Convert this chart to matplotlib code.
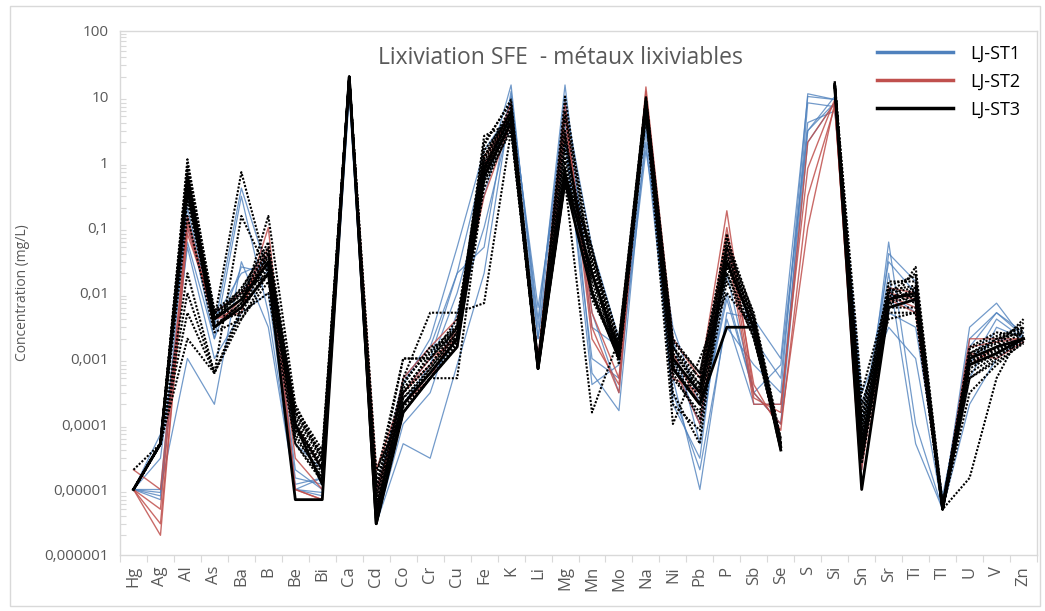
import numpy as np
import matplotlib
matplotlib.use("Agg")
import matplotlib.pyplot as plt
from matplotlib.patches import Rectangle
from matplotlib.lines import Line2D

plt.rcParams['font.family'] = ['Open Sans', 'DejaVu Sans']

nan = np.nan

elements = ["Hg", "Ag", "Al", "As", "Ba", "B", "Be", "Bi", "Ca", "Cd", "Co", "Cr", "Cu", "Fe", "K",
            "Li", "Mg", "Mn", "Mo", "Na", "Ni", "Pb", "P", "Sb", "Se", "S", "Si", "Sn", "Sr", "Ti",
            "Tl", "U", "V", "Zn"]

yticks = [1e-6, 1e-5, 1e-4, 1e-3, 1e-2, 1e-1, 1, 10, 100]
ytick_labels = ["0,000001", "0,00001", "0,0001", "0,001", "0,01", "0,1", "1", "10", "100"]

# LJ-ST1 (blue)
st1_a = [1e-5, 7e-5, 0.2, 0.003, 0.4, 0.02, 1.2e-5, 1.5e-5, 15, 3e-6, 1.5e-4, 5e-4, 0.002, 0.5, 15, 0.002, 10,
         6e-4, 1.6e-4, 3, 5e-4, 1e-5, 0.005, 0.004, 0.001, 10, 9, 3e-5, 0.06, 1e-4, 5e-6, 0.003, 0.007, 0.002]
st1_b = [1e-5, 1e-5, 0.001, 2e-4, 0.03, 0.003, 1e-5, 8e-6, 12, 3e-6, 5e-5, 3e-5, 8e-4, 0.02, 8, 0.006, 3,
         4e-4, 8e-4, 2, 3e-4, 2e-5, 0.004, 2e-4, 2e-4, 3, 8, 5e-5, 0.02, 5e-5, 5e-6, 5e-4, 0.003, 0.002]
st1_c = [1e-5, 8e-6, 0.06, 0.002, 0.3, 0.005, 1e-5, 1.5e-5, 18, 4e-6, 3e-4, 1e-3, 0.02, 0.05, 12, 0.003, 15,
         0.005, 3e-4, 5, 0.002, 5e-5, 0.02, 3e-4, 1e-4, 2, 8, 1e-4, 0.03, 0.01, 6e-6, 0.002, 0.005, 0.0025]
st1_d = [1e-5, 7e-6, 0.1, 0.004, 0.02, 0.03, 2e-5, 1e-5, 20, 5e-6, 4e-4, 0.002, 0.05, 1.5, 6, 0.001, 6,
         0.01, 0.001, 8, 0.001, 1e-4, 0.01, 3e-4, 1e-4, 8, 7, 5e-5, 0.01, 0.005, 5e-6, 0.001, 0.002, 0.0018]
st1_e = [1e-5, 9e-6, 0.3, 0.005, 0.01, 0.04, 5e-5, 2e-5, 20, 1e-5, 2e-4, 8e-4, 0.01, 0.3, 10, 0.004, 8,
         0.05, 0.002, 4, 2e-4, 3e-5, 0.05, 0.002, 5e-4, 4, 6, 2e-4, 0.005, 0.003, 8e-6, 8e-4, 0.004, 0.002]
st1_f = [1e-5, 3e-5, 0.05, 0.001, 0.005, 0.01, 1e-5, 9e-6, 10, 3e-6, 1e-4, 3e-4, 0.005, 0.1, 5, 0.002, 2,
         0.001, 5e-4, 1.5, 0.003, 2e-4, 0.003, 8e-4, 3e-4, 11, 9, 3e-4, 0.003, 0.001, 5e-6, 2e-4, 0.001, 0.002]
st1_g = [1e-5, 5e-5, 0.15, 0.002, 0.025, 0.02, 1.5e-5, 1.2e-5, 20, 8e-6, 5e-4, 0.0015, 0.02, 1, 3, 0.001, 4,
         0.003, 0.0015, 6, 8e-4, 1e-4, 0.008, 3e-4, 8e-4, 3, 10, 2e-5, 0.04, 0.015, 5e-6, 0.0015, 0.005, 0.0022]

# LJ-ST2 (red)
st2_a = [2e-5, 1e-5, 0.12, 0.004, 0.005, 0.1, 1e-5, 7e-6, 20, 2e-5, 3e-4, 0.001, 0.002, 1.2, 5, 0.001, 8,
         0.003, 3e-4, 14, 0.002, 5e-4, 0.18, 3e-4, 1e-4, 0.1, 8, 1e-5, 0.008, 0.005, 5e-6, 0.002, 0.002, 0.002]
st2_b = [1e-5, 5e-6, 0.15, 0.003, 0.008, 0.05, 3e-5, 1e-5, 20, 1e-5, 2e-4, 5e-4, 0.003, 0.6, 8, 9e-4, 5,
         0.005, 5e-4, 10, 8e-4, 1e-4, 0.05, 2e-4, 2e-4, 0.8, 9, 3e-5, 0.01, 0.008, 5e-6, 8e-4, 0.0015, 0.002]
st2_c = [1e-5, 3e-6, 0.08, 0.005, 0.01, 0.03, 1e-4, 2e-5, 19, 5e-6, 5e-4, 0.0015, 0.004, 0.3, 4, 8e-4, 3,
         0.01, 0.001, 8, 5e-4, 3e-4, 0.1, 4e-4, 8e-5, 0.3, 7, 2e-5, 0.012, 0.01, 5e-6, 0.0012, 0.001, 0.0018]
st2_d = [1e-5, 2e-6, 0.1, 0.004, 0.006, 0.04, 1e-5, 7e-6, 20, 8e-6, 3e-4, 8e-4, 0.0025, 0.9, 6, 9e-4, 6,
         0.002, 4e-4, 12, 0.0012, 2e-4, 0.08, 2.5e-4, 1.5e-4, 2, 8, 1e-5, 0.009, 0.006, 5e-6, 0.0015, 0.0018, 0.002]

# LJ-ST3 (black, solid)
st3_main = [1e-5, 5e-5, 0.6, 0.004, 0.008, 0.03, 1e-4, 1.2e-5, 20, 3e-6, 2e-4, 6e-4, 0.002, 0.8, 5, 7e-4, 0.6,
            0.02, 0.0013, 8, 0.001, 3e-4, 0.03, 0.003, 4.5e-5, nan, 15, 3e-5, 0.008, 0.01, 5e-6, 0.001, 0.0015, 0.002]
st3_low = [1e-5, 5e-5, 0.4, 0.003, 0.006, 0.02, 7e-6, 7e-6, 20, 3e-6, 1.5e-4, 5e-4, 0.0015, 0.6, 4, 7e-4, 0.5,
           0.01, 0.001, 6, 7e-4, 2e-4, 0.003, 0.003, 4e-5, nan, 14, 1e-5, 0.006, 0.008, 5e-6, 8e-4, 0.0012, 0.002]

# LJ-ST3 (black, dotted)
st3_d1 = [1e-5, 5e-5, 1.1, 0.005, 0.01, 0.04, 1.5e-4, 3e-5, 20, 4e-6, 3e-4, 8e-4, 0.003, 1.0, 6, 8e-4, 1.0,
          0.03, 0.0015, 9, 0.0015, 5e-4, 0.04, 0.004, 5e-5, nan, 16, 5e-5, 0.01, 0.012, 5e-6, 0.0012, 0.002, 0.0025]
st3_d2 = [2e-5, 5e-5, 0.8, 0.004, 0.7, 0.02, 8e-5, 2e-5, 20, 5e-6, 2.5e-4, 7e-4, 0.0025, 2.5, 4, 7e-4, 2,
          0.01, 0.001, 7, 8e-4, 2e-4, 0.02, 0.002, 6e-5, nan, 14, 1e-4, 0.006, 0.025, 6e-6, 8e-4, 0.0015, 0.004]
st3_d3 = [1e-5, 5e-5, 0.02, 6e-4, 0.15, 0.02, 1.8e-4, 4e-5, 20, 1e-5, 0.001, 0.001, 0.003, 1.5, 5, 7e-4, 0.5,
          1.5e-4, 0.002, 6, 1e-4, 0.001, 0.01, 0.003, 5e-5, nan, 15, 2e-4, 0.004, 0.005, 5e-6, 1.5e-5, 5e-4, 0.003]
st3_d4 = [1e-5, 5e-5, 0.01, 6e-4, 0.005, 0.01, 5e-5, 1.5e-5, 20, 3e-6, 5e-4, 0.005, 0.005, 0.007, 3, 7e-4, 0.8,
          0.02, 0.001, 8, 3e-4, 5e-5, 0.06, 0.004, 4e-5, nan, 15, 3e-5, 0.012, 0.008, 5e-6, 5e-4, 0.001, 0.002]
st3_d5 = [1e-5, 5e-5, 0.005, 6e-4, 0.004, 0.015, 1e-4, 2.5e-5, 20, 2e-5, 1.5e-4, 5e-4, 5e-4, 0.5, 4, 7e-4, 0.6,
          0.05, 8e-4, 5, 0.0015, 3e-4, 0.03, 0.003, 5e-5, nan, 14, 1e-4, 0.008, 0.01, 5e-6, 3e-4, 8e-4, 0.0018]
st3_d6 = [1e-5, 5e-5, 0.002, 6e-4, 0.006, 0.15, 2e-4, 3e-5, 20, 1.5e-5, 0.001, 0.001, 0.004, 1.2, 6, 8e-4, 1.5,
          0.04, 0.002, 10, 0.002, 6e-4, 0.05, 0.005, 6e-5, nan, 17, 3e-4, 0.01, 0.02, 6e-6, 0.001, 0.002, 0.003]
st3_d7 = [1e-5, 5e-5, 0.3, 0.004, 0.012, 0.05, 1.2e-4, 2e-5, 20, 8e-6, 4e-4, 0.0015, 0.002, 2, 8, 9e-4, 3,
          0.008, 0.0012, 9, 0.0012, 4e-4, 0.08, 0.002, 5e-5, nan, 15, 8e-5, 0.015, 0.015, 5e-6, 0.0015, 0.0025, 0.0022]
st3_d8 = [1e-5, 5e-5, 0.5, 0.005, 0.009, 0.035, 6e-5, 1.8e-5, 20, 5e-6, 2e-4, 6e-4, 0.0018, 0.9, 5, 7e-4, 0.7,
          0.015, 0.0011, 8, 5e-4, 1.5e-4, 0.025, 0.003, 4.5e-5, nan, 16, 4e-5, 0.009, 0.009, 5e-6, 0.0007, 0.0012, 0.002]
st3_d9 = [1e-5, 5e-5, 0.7, 0.003, 0.007, 0.04, 1.5e-4, 3.5e-5, 20, 1.2e-5, 3e-4, 0.0012, 0.003, 1.2, 7, 8e-4, 5,
          0.025, 0.0015, 9, 2e-4, 8e-5, 0.04, 0.0035, 5e-5, nan, 16, 6e-5, 0.007, 0.012, 5e-6, 0.0012, 0.0018, 0.0035]
st3_d10 = [1e-5, 5e-5, 0.9, 0.004, 0.01, 0.02, 8e-5, 2.5e-5, 20, 6e-6, 3e-4, 0.0008, 0.0025, 0.7, 4, 7e-4, 10,
           0.02, 0.0014, 7, 0.001, 3e-4, 0.035, 0.004, 5e-5, nan, 15, 1.5e-4, 0.01, 0.007, 5e-6, 0.001, 0.0015, 0.0025]
st3_d11 = [1e-5, 5e-5, 0.4, 0.0045, 0.006, 0.03, 1e-4, 2e-5, 20, 4e-6, 2e-4, 7e-4, 0.0022, 0.8, 6, 7e-4, 0.8,
           0.03, 0.0013, 8, 7e-4, 2e-4, 0.03, 0.003, 4.5e-5, nan, 15, 4e-5, 0.008, 0.011, 5e-6, 0.0009, 0.0014, 0.002]
st3_d12 = [1e-5, 5e-5, 0.25, 0.0035, 0.005, 0.025, 7e-5, 1.5e-5, 20, 3e-6, 1.5e-4, 5e-4, 0.0015, 0.5, 3, 7e-4, 0.5,
           0.01, 0.0011, 6, 0.0015, 4e-4, 0.02, 0.0025, 4e-5, nan, 14, 3e-5, 0.006, 0.006, 5e-6, 6e-4, 0.0011, 0.0018]
st3_d13 = [1e-5, 5e-5, 0.6, 0.005, 0.01, 0.045, 1.3e-4, 2.8e-5, 20, 7e-6, 3.5e-4, 0.001, 0.0028, 1.1, 6, 8e-4, 1.2,
           0.035, 0.0016, 9, 0.0012, 3.5e-4, 0.05, 0.0035, 5e-5, nan, 16, 7e-5, 0.011, 0.013, 5e-6, 0.0011, 0.0017, 0.0028]
st3_d14 = [1e-5, 5e-5, 0.35, 0.003, 0.007, 0.028, 9e-5, 2.2e-5, 20, 5e-6, 2.5e-4, 6e-4, 0.002, 0.7, 4.5, 7e-4, 0.7,
           0.018, 0.0012, 7, 9e-4, 2.5e-4, 0.028, 0.003, 4.5e-5, nan, 15, 5e-5, 0.007, 0.009, 5e-6, 9e-4, 0.0013, 0.0021]
st3_d15 = [1e-5, 5e-5, 0.15, 0.0025, 0.004, 0.02, 5e-5, 1.3e-5, 20, 4e-6, 1.8e-4, 5e-4, 0.0017, 0.4, 3.5, 7e-4, 2.5,
           0.012, 0.001, 6, 6e-4, 1.2e-4, 0.015, 0.0022, 4e-5, nan, 14, 2.5e-5, 0.005, 0.005, 5e-6, 5e-4, 0.0009, 0.0017]
st3_d16 = [1e-5, 5e-5, 0.9, 0.0055, 0.011, 0.06, 1.6e-4, 3.2e-5, 20, 1e-5, 4.5e-4, 0.0013, 0.0032, 1.8, 9, 9e-4, 6,
           0.045, 0.0018, 10, 0.0018, 6e-4, 0.07, 0.0045, 5.5e-5, nan, 17, 1.2e-4, 0.013, 0.018, 6e-6, 0.0014, 0.0022, 0.003]

st1_series = [st1_a, st1_b, st1_c, st1_d, st1_e, st1_f, st1_g]
st2_series = [st2_a, st2_b, st2_c, st2_d]
st3_dotted = [st3_d1, st3_d2, st3_d3, st3_d4, st3_d5, st3_d6, st3_d7, st3_d8, st3_d9, st3_d10, st3_d11, st3_d12,
              st3_d13, st3_d14, st3_d15, st3_d16]
st3_solid = [st3_main, st3_low]

blue = "#4f81bd"
red = "#c0504d"
grey = "#595959"
axis_grey = "#d9d9d9"

fig = plt.figure(figsize=(10.45, 6.11), dpi=100)
ax = fig.add_axes([120 / 1045, 1 - 555 / 611, 917 / 1045, 524 / 611])
fig.patches.append(Rectangle((10 / 1045, 5 / 611), 1030 / 1045, 600 / 611, transform=fig.transFigure,
                             fill=False, edgecolor=axis_grey, linewidth=1))

x = np.arange(len(elements))

for s in st1_series:
    ax.plot(x, s, color=blue, lw=0.9, alpha=0.8)
for s in st2_series:
    ax.plot(x, s, color=red, lw=1.0, alpha=0.85)
for s in st3_dotted:
    ax.plot(x, s, color="black", lw=1.5, linestyle=(0, (1, 0.8)))
for s in st3_solid:
    ax.plot(x, s, color="black", lw=2.0)

ax.set_yscale("log")
ax.set_ylim(1e-6, 100)
ax.set_xlim(-0.5, len(elements) - 0.5)
ax.set_yticks(yticks)
ax.set_yticklabels(ytick_labels)
ax.yaxis.set_minor_locator(matplotlib.ticker.LogLocator(base=10, subs=np.arange(2, 10)))
ax.yaxis.set_minor_formatter(matplotlib.ticker.NullFormatter())
ax.tick_params(axis="y", which="major", length=0, labelsize=11, labelcolor=grey, pad=8)
ax.tick_params(axis="y", which="minor", direction="in", length=4, color=axis_grey, width=0.8)

ax.set_xticks(x)
ax.set_xticklabels(elements, rotation=90)
ax.set_xticks(np.arange(-0.5, len(elements)), minor=True)
ax.tick_params(axis="x", which="major", length=0, labelsize=12, labelcolor=grey, pad=8)
ax.tick_params(axis="x", which="minor", length=5, color=axis_grey, width=0.8)

for sp in ax.spines.values():
    sp.set_color(axis_grey)
    sp.set_linewidth(1)

ax.set_ylabel("Concentration (mg/L)", fontsize=10, color=grey, labelpad=10)
fig.text(560 / 1045, 1 - 58 / 611, "Lixiviation SFE  - métaux lixiviables", fontsize=16.5, color=grey,
         ha="center", va="center")

handles = [Line2D([], [], color=blue, lw=2.5),
           Line2D([], [], color=red, lw=2.5),
           Line2D([], [], color="black", lw=2.5)]
ax.legend(handles, ["LJ-ST1", "LJ-ST2", "LJ-ST3"], loc="upper right", bbox_to_anchor=(1.0, 1.005),
          frameon=False, fontsize=13, handlelength=4.2, handletextpad=1.0, labelspacing=0.55)

fig.savefig("out.png", dpi=100)
